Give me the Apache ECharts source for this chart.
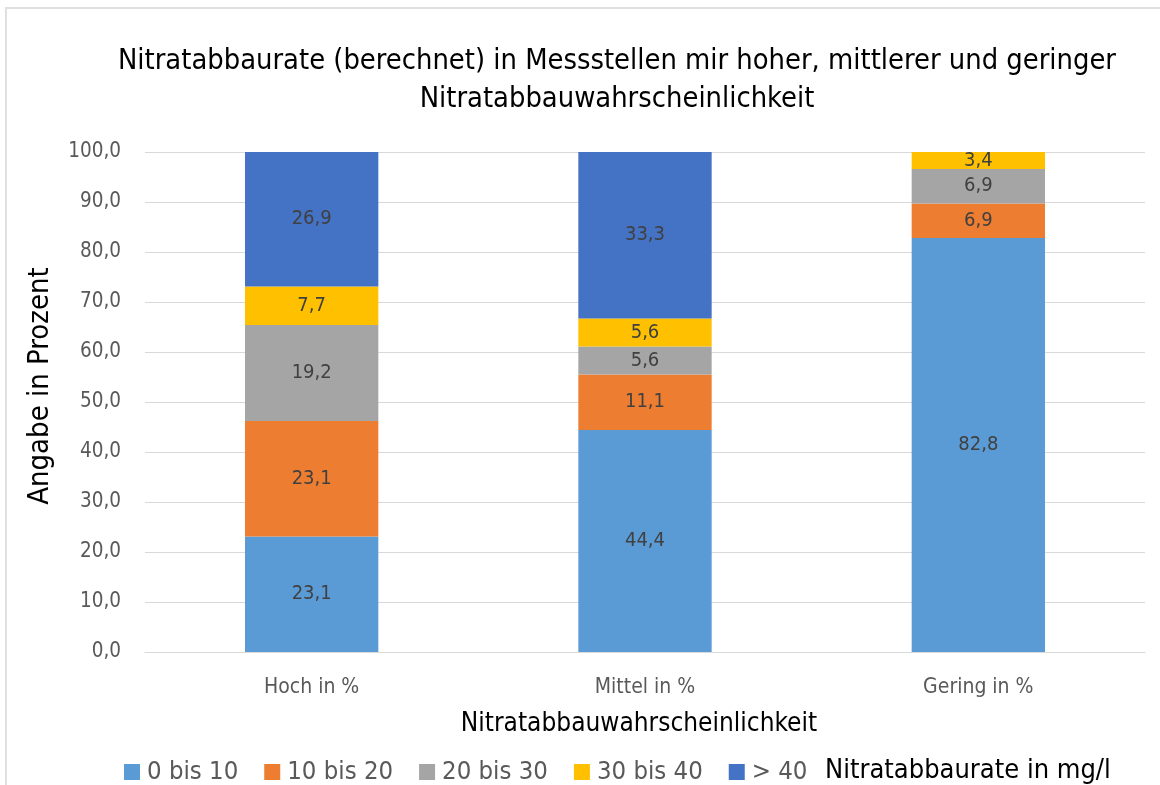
<!DOCTYPE html>
<html>
<head>
<meta charset="utf-8">
<script src="https://cdn.jsdelivr.net/npm/echarts@6/dist/echarts.min.js"></script>
<style>
html,body{margin:0;padding:0;background:#fff;overflow:hidden;}
#frame{position:absolute;left:5px;top:7px;width:1200px;height:800px;border-left:2px solid #e0e0e0;border-top:2px solid #e0e0e0;box-sizing:border-box;}
#c{position:absolute;left:0;top:0;width:1160px;height:785px;}
</style>
</head>
<body>
<div id="frame"></div>
<div id="c"></div>
<script>
const categories = ['Hoch in %', 'Mittel in %', 'Gering in %'];
const seriesNames = ['0 bis 10', '10 bis 20', '20 bis 30', '30 bis 40', '> 40'];
const s0bis10 = [23.1, 44.4, 82.8];
const s10bis20 = [23.1, 11.1, 6.9];
const s20bis30 = [19.2, 5.6, 6.9];
const s30bis40 = [7.7, 5.6, 3.4];
const sUeber40 = [26.9, 33.3, null];
const yTicks = [0, 10, 20, 30, 40, 50, 60, 70, 80, 90, 100];

const colors = ['#5B9BD5', '#ED7D31', '#A5A5A5', '#FFC000', '#4472C4'];
const FONT = '"DejaVu Sans Condensed", "Liberation Sans Narrow", sans-serif';
const fmt = v => Number(v).toFixed(1).replace('.', ',');

const values = [s0bis10, s10bis20, s20bis30, s30bis40, sUeber40];
const chart = echarts.init(document.getElementById('c'), null, {renderer: 'canvas'});
chart.setOption({
  animation: false,
  textStyle: {fontFamily: FONT},
  title: {
    text: 'Nitratabbaurate (berechnet) in Messstellen mir hoher, mittlerer und geringer\nNitratabbauwahrscheinlichkeit',
    left: 612, top: 38, textAlign: 'center',
    textStyle: {fontFamily: FONT, fontSize: 28.8, fontWeight: 'normal', color: '#000', lineHeight: 38}
  },
  grid: {left: 145, right: 15, top: 152, bottom: 133, containLabel: false},
  legend: {
    left: 119, top: 754, itemWidth: 16, itemHeight: 16, itemGap: 26,
    icon: 'rect',
    textStyle: {fontFamily: FONT, fontSize: 25.5, color: '#595959', padding: [0, 0, 0, 2]},
    data: seriesNames
  },
  graphic: [{
    type: 'text', left: 825, top: 757,
    style: {text: 'Nitratabbaurate in mg/l', fontFamily: FONT, fontSize: 27, fill: '#000'}
  }],
  xAxis: {
    type: 'category', data: categories,
    name: 'Nitratabbauwahrscheinlichkeit', nameLocation: 'middle', nameGap: 59,
    nameTextStyle: {fontFamily: FONT, fontSize: 26, color: '#000', padding: [0, 12, 0, 0]},
    axisLine: {lineStyle: {color: '#D9D9D9', width: 1}},
    axisTick: {show: false},
    axisLabel: {fontFamily: FONT, fontSize: 21, color: '#595959', margin: 25}
  },
  yAxis: {
    type: 'value', min: 0, max: 100, interval: 10,
    name: 'Angabe in Prozent', nameLocation: 'middle', nameGap: 90,
    nameTextStyle: {fontFamily: FONT, fontSize: 29, color: '#000', padding: [0, 0, 0, 32]},
    axisLine: {show: false}, axisTick: {show: false},
    splitLine: {lineStyle: {color: '#D9D9D9', width: 1}},
    axisLabel: {fontFamily: FONT, fontSize: 20.5, color: '#595959', margin: 24,
      formatter: v => yTicks.includes(v) ? fmt(v) : ''}
  },
  series: seriesNames.map((name, i) => ({
    name, type: 'bar', stack: 'total', barWidth: '40%',
    data: values[i],
    itemStyle: {color: colors[i]},
    label: {show: true, position: 'inside', fontFamily: FONT, fontSize: 20, color: '#404040',
      formatter: p => p.value == null ? '' : fmt(p.value)}
  }))
});
</script>
</body>
</html>
